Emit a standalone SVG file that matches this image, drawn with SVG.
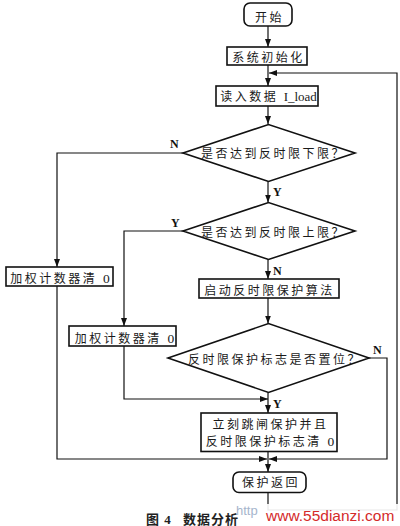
<svg xmlns="http://www.w3.org/2000/svg" width="400" height="526" viewBox="0 0 400 526">
<defs>
<marker id="ah" viewBox="0 0 8 6" refX="8" refY="3" markerWidth="8" markerHeight="6" markerUnits="userSpaceOnUse" orient="auto">
<path d="M0,0 L8,3 L0,6 Z" fill="#111"/>
</marker>
</defs>
<style>
.box{fill:#fff;stroke:#111;stroke-width:1.6}
.ln{fill:none;stroke:#111;stroke-width:1.2}
.t{font-family:"Liberation Serif","Noto Sans CJK SC",serif;font-size:12px;fill:#1a1a1a;text-anchor:middle;letter-spacing:2.5px}
.d{font-size:13.5px;letter-spacing:0}
.lb{font-family:"Liberation Serif",serif;font-size:12px;font-weight:bold;fill:#111}
.cap{font-family:"Liberation Serif","Noto Sans CJK SC",serif;font-size:13px;font-weight:bold;fill:#222;letter-spacing:1px}
</style>
<rect width="400" height="526" fill="#fff"/>
<g id="connectors">
<path class="ln" d="M268,26 V47" marker-end="url(#ah)"/>
<path class="ln" d="M268,65 V86" marker-end="url(#ah)"/>
<path class="ln" d="M268,106 V124" marker-end="url(#ah)"/>
<path class="ln" d="M268,181.5 V202.5" marker-end="url(#ah)"/>
<path class="ln" d="M183,153 H57 V267" marker-end="url(#ah)"/>
<path class="ln" d="M183,231 H124 V326" marker-end="url(#ah)"/>
<path class="ln" d="M268,259.5 V279" marker-end="url(#ah)"/>
<path class="ln" d="M268,298 V323.5" marker-end="url(#ah)"/>
<path class="ln" d="M124,346 V399 H268" marker-end="url(#ah)"/>
<path class="ln" d="M268,392.5 V413" marker-end="url(#ah)"/>
<path class="ln" d="M369,358 H387 V459 H269" marker-end="url(#ah)"/>
<path class="ln" d="M57,286 V459 H267" marker-end="url(#ah)"/>
<path class="ln" d="M268,451.5 V472" marker-end="url(#ah)"/>
<path class="ln" d="M268,492.5 V510 H397 V73 H269" marker-end="url(#ah)"/>
<text class="lb" x="170" y="148">N</text>
<text class="lb" x="273" y="196">Y</text>
<text class="lb" x="171" y="227">Y</text>
<text class="lb" x="273" y="275">N</text>
<text class="lb" x="373" y="354">N</text>
<text class="lb" x="273" y="408">Y</text>
</g>
<g id="start">
<rect class="box" x="244" y="3" width="48" height="23" rx="6"/>
<text class="t" x="269.5" y="21.5">开始</text>
</g>
<g id="init">
<rect class="box" x="227" y="47" width="80" height="18"/>
<text class="t" x="268.5" y="61.5">系统初始化</text>
</g>
<g id="read">
<rect class="box" x="216" y="86" width="102" height="20"/>
<text class="t" x="268.5" y="100.5">读入数据 <tspan letter-spacing="0" font-size="13">I_load</tspan></text>
</g>
<g id="d1">
<polygon class="box" points="183,153 268.5,124.5 355,153 268.5,181.5"/>
<text class="t" x="273.5" y="158">是否达到反时限下限？</text>
</g>
<g id="d2">
<polygon class="box" points="183,231 268.5,202.5 355,231 268.5,259.5"/>
<text class="t" x="273.5" y="237">是否达到反时限上限？</text>
</g>
<g id="clear1">
<rect class="box" x="6" y="267" width="107" height="19"/>
<text class="t" x="60" y="282.5">加权计数器清 <tspan class="d">0</tspan></text>
</g>
<g id="algo">
<rect class="box" x="199" y="279" width="140" height="19"/>
<text class="t" x="269.5" y="295">启动反时限保护算法</text>
</g>
<g id="clear2">
<rect class="box" x="69" y="326" width="107" height="20"/>
<text class="t" x="124.5" y="342.5">加权计数器清 <tspan class="d">0</tspan></text>
</g>
<g id="d3">
<polygon class="box" points="168,358 268.5,323.5 369,358 268.5,392.5"/>
<text class="t" x="275" y="363.5">反时限保护标志是否置位？</text>
</g>
<g id="trip">
<rect class="box" x="201" y="413" width="136" height="38.5"/>
<text class="t" x="270.5" y="429">立刻跳闸保护并且</text>
<text class="t" x="270" y="446">反时限保护标志清 <tspan class="d">0</tspan></text>
</g>
<g id="return">
<rect class="box" x="233" y="472" width="73" height="20.5" rx="6"/>
<text class="t" x="271" y="487">保护返回</text>
</g>
<text class="cap" x="146" y="524">图 4<tspan x="183">数据分析</tspan></text>
<rect x="263" y="504" width="137" height="22" fill="#fff" opacity="0.9"/>
<text x="236" y="515" font-family="Liberation Sans,sans-serif" font-size="13" fill="#8fa3c0" opacity="0.8">http</text>
<text x="266" y="521" font-family="Liberation Sans,sans-serif" font-size="15.5" fill="#d42a2a">www.55dianzi.com</text>
</svg>
